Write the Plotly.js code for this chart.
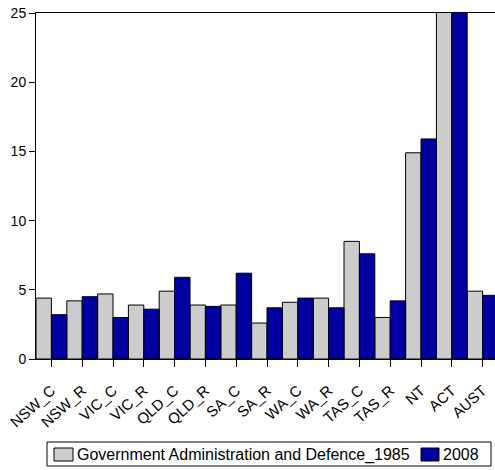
<!DOCTYPE html>
<html><head><meta charset="utf-8">
<script src="https://cdn.plot.ly/plotly-3.0.1.min.js"></script>
<style>html,body{margin:0;padding:0;overflow:hidden;background:#fff}</style>
</head><body>
<div id="chart"></div>
<script>
const categories = ["NSW_C","NSW_R","VIC_C","VIC_R","QLD_C","QLD_R","SA_C","SA_R","WA_C","WA_R","TAS_C","TAS_R","NT","ACT","AUST"];
const values1985 = [4.4, 4.2, 4.7, 3.9, 4.9, 3.9, 3.9, 2.6, 4.1, 4.4, 8.5, 3.0, 14.9, 29.0, 4.9];
const values2008 = [3.2, 4.5, 3.0, 3.6, 5.9, 3.8, 6.2, 3.7, 4.4, 3.7, 7.6, 4.2, 15.9, 28.0, 4.6];
const name1985 = "Government Administration and Defence_1985";
const name2008 = "2008";
const yTicks = [0, 5, 10, 15, 20, 25];

const fontFam = "'Liberation Sans', Arial, sans-serif";
const color1985 = "#CCCCCC", color2008 = "#0000A0";

// page geometry (pixels)
const W = 498, H = 470, mL = 36, mR = 0, mT = 13, mB = 111;
const plotW = W - mL - mR, plotH = H - mT - mB;
const px = x => (x - mL) / plotW;
const py = y => (H - mB - y) / plotH;

const data = [
  {type:"bar", x:categories, y:values1985, name:name1985, showlegend:false,
   marker:{color:color1985, line:{color:"#000000", width:1}}},
  {type:"bar", x:categories, y:values2008, name:name2008, showlegend:false,
   marker:{color:color2008, line:{color:"#000000", width:1}}}
];

const shapes = [
  {type:"rect", xref:"paper", yref:"paper", x0:px(47), x1:px(491), y0:py(466), y1:py(442),
   line:{color:"#000", width:1}, fillcolor:"rgba(0,0,0,0)"},
  {type:"rect", xref:"paper", yref:"paper", x0:px(54), x1:px(73), y0:py(461), y1:py(448),
   line:{color:"#000", width:1}, fillcolor:color1985},
  {type:"rect", xref:"paper", yref:"paper", x0:px(421), x1:px(439), y0:py(461), y1:py(448),
   line:{color:"#000", width:1}, fillcolor:color2008}
];
const annotations = [
  {xref:"paper", yref:"paper", x:px(75), y:py(454.5), xanchor:"left", yanchor:"middle",
   text:name1985, showarrow:false, font:{family:fontFam, size:16, color:"#000"}},
  {xref:"paper", yref:"paper", x:px(441), y:py(454.5), xanchor:"left", yanchor:"middle",
   text:name2008, showarrow:false, font:{family:fontFam, size:16, color:"#000"}}
];

const layout = {
  width:W, height:H,
  margin:{l:mL, r:mR, t:mT, b:mB},
  paper_bgcolor:"#ffffff", plot_bgcolor:"#ffffff",
  font:{family:fontFam, size:14, color:"#000"},
  barmode:"group", bargap:0, bargroupgap:0,
  showlegend:false,
  xaxis:{type:"category", tickangle:-42, ticks:"outside", ticklen:7, tickcolor:"#000",
    ticklabelstandoff:9,
    showline:true, linecolor:"#000", linewidth:1, mirror:true, showgrid:false,
    tickfont:{family:fontFam, size:15, color:"#000"}},
  yaxis:{range:[0,25], tickvals:yTicks, ticktext:yTicks.map(String), ticks:"outside", ticklen:6, tickcolor:"#000",
    showline:true, linecolor:"#000", linewidth:1, mirror:true, showgrid:false, zeroline:false,
    tickfont:{family:fontFam, size:14, color:"#000"}},
  shapes:shapes,
  annotations:annotations
};
Plotly.newPlot("chart", data, layout, {displayModeBar:false, staticPlot:true});
</script>
</body></html>
